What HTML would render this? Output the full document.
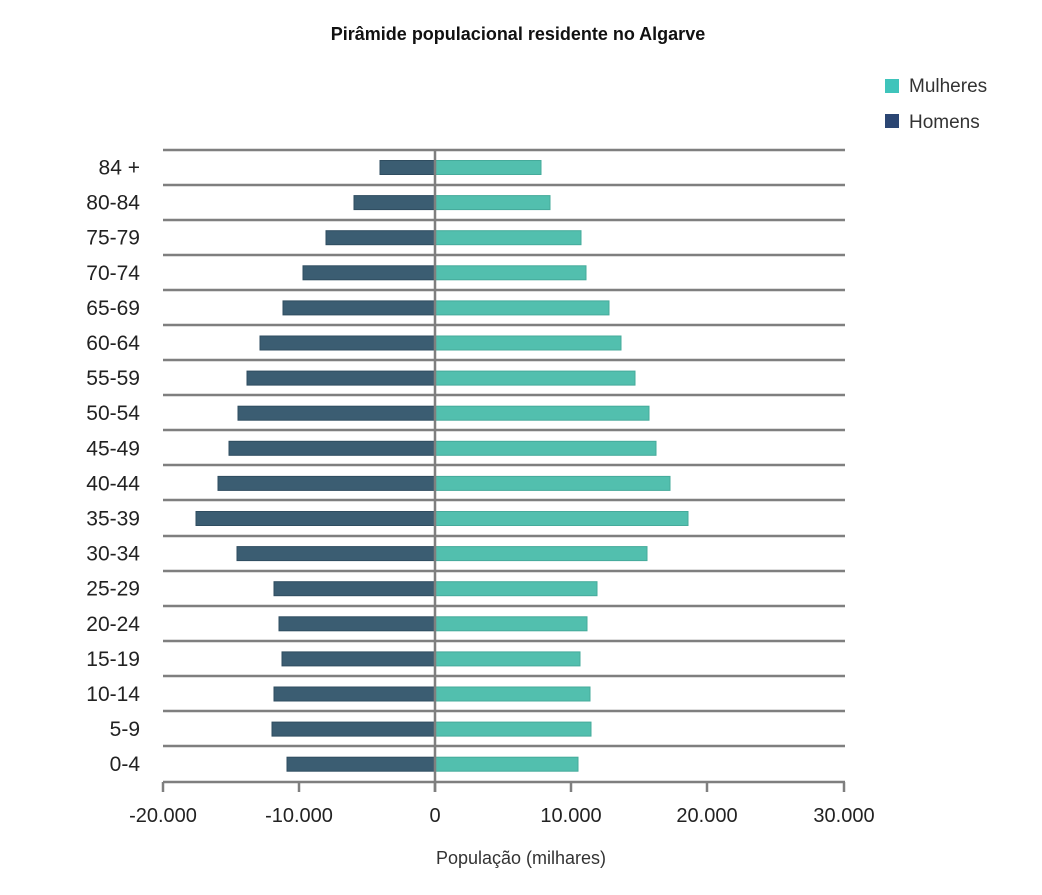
<!DOCTYPE html>
<html><head><meta charset="utf-8"><style>
html,body{margin:0;padding:0;background:#fff;}
svg{display:block;font-family:"Liberation Sans","DejaVu Sans",sans-serif;}
</style></head><body>
<svg width="1042" height="895" viewBox="0 0 1042 895">
<text x="518" y="40" text-anchor="middle" font-size="18" font-weight="bold" fill="#111">Pirâmide populacional residente no Algarve</text>
<rect x="885" y="79" width="14" height="14" fill="#3fc4bb"/>
<text x="909" y="92" font-size="19" fill="#333">Mulheres</text>
<rect x="885" y="114" width="14" height="14" fill="#2b4673"/>
<text x="909" y="128" font-size="19" fill="#333">Homens</text>
<g stroke="#7f7f7f" stroke-width="2.5">
<line x1="163" y1="150" x2="845" y2="150"/><line x1="163" y1="185" x2="845" y2="185"/><line x1="163" y1="220" x2="845" y2="220"/><line x1="163" y1="255" x2="845" y2="255"/><line x1="163" y1="290" x2="845" y2="290"/><line x1="163" y1="325" x2="845" y2="325"/><line x1="163" y1="360" x2="845" y2="360"/><line x1="163" y1="395" x2="845" y2="395"/><line x1="163" y1="430" x2="845" y2="430"/><line x1="163" y1="465" x2="845" y2="465"/><line x1="163" y1="500" x2="845" y2="500"/><line x1="163" y1="536" x2="845" y2="536"/><line x1="163" y1="571" x2="845" y2="571"/><line x1="163" y1="606" x2="845" y2="606"/><line x1="163" y1="641" x2="845" y2="641"/><line x1="163" y1="676" x2="845" y2="676"/><line x1="163" y1="711" x2="845" y2="711"/><line x1="163" y1="746" x2="845" y2="746"/><line x1="163" y1="782" x2="845" y2="782"/>
<line x1="163" y1="782" x2="163" y2="792"/><line x1="299" y1="782" x2="299" y2="792"/><line x1="435" y1="782" x2="435" y2="792"/><line x1="571" y1="782" x2="571" y2="792"/><line x1="707" y1="782" x2="707" y2="792"/><line x1="844" y1="782" x2="844" y2="792"/>
</g>
<g id="bars"></g>
<line x1="435" y1="150" x2="435" y2="792" stroke="#7f7f7f" stroke-width="2.5"/>
<g font-size="20" fill="#222" text-anchor="middle">
<text x="163" y="822">-20.000</text><text x="299" y="822">-10.000</text><text x="435" y="822">0</text><text x="571" y="822">10.000</text><text x="707" y="822">20.000</text><text x="844" y="822">30.000</text>
</g>
<text x="521" y="864" text-anchor="middle" font-size="18" fill="#333">População (milhares)</text>
<g font-size="21" fill="#222" text-anchor="end" id="labels"></g>
<script>
var L=["84 +","80-84","75-79","70-74","65-69","60-64","55-59","50-54","45-49","40-44","35-39","30-34","25-29","20-24","15-19","10-14","5-9","0-4"];
var A=[[380,541],[354,550],[326,581],[303,586],[283,609],[260,621],[247,635],[238,649],[229,656],[218,670],[196,688],[237,647],[274,597],[279,587],[282,580],[274,590],[272,591],[287,578]];
var ns="http://www.w3.org/2000/svg",b=document.getElementById("bars"),l=document.getElementById("labels");
for(var i=0;i<18;i++){var c=150+i*35.1+17.5;
var r=document.createElementNS(ns,"rect");r.setAttribute("x",A[i][0]);r.setAttribute("y",c-7);r.setAttribute("width",435-A[i][0]);r.setAttribute("height",14);r.setAttribute("fill","#3b5d72");r.setAttribute("stroke","#2f4d60");b.appendChild(r);
r=document.createElementNS(ns,"rect");r.setAttribute("x",435);r.setAttribute("y",c-7);r.setAttribute("width",A[i][1]-435);r.setAttribute("height",14);r.setAttribute("fill","#52bfae");r.setAttribute("stroke","#45ab9b");b.appendChild(r);
var t=document.createElementNS(ns,"text");t.setAttribute("x",140);t.setAttribute("y",c+7);t.textContent=L[i];l.appendChild(t);}
</script>
</svg>
</body></html>
